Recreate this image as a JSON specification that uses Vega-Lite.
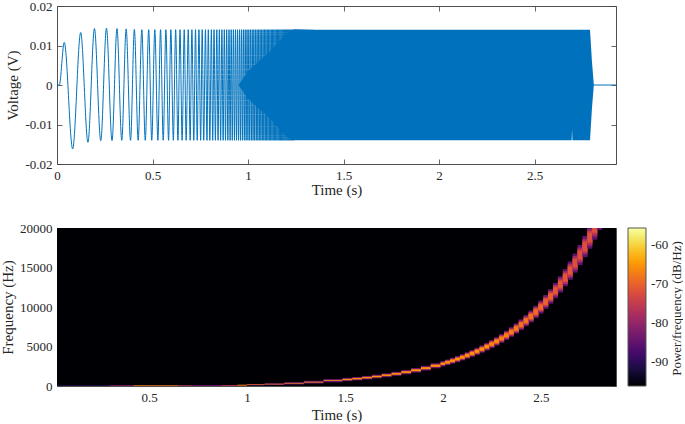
{"$schema":"https://vega.github.io/schema/vega-lite/v6.json","padding":{"left":0,"top":0,"right":0,"bottom":0},"bounds":"flush","spacing":64,
"config":{"view":{"stroke":null},"font":"Liberation Serif","axis":{"grid":false,"labelFont":"Liberation Serif","titleFont":"Liberation Serif","labelFontSize":13,"titleFontSize":15,"titleFontWeight":"normal","labelColor":"#262626","titleColor":"#262626","tickColor":"#404040","domainColor":"#505050","tickSize":-5,"tickWidth":0.8,"domainWidth":1,"labelPadding":10,"zindex":1,"labelFlush":false,"labelOverlap":false}},
"datasets":{
"wave":[{"t":0,"v":0},{"t":0.012,"v":0},{"t":0.038,"v":0.0108},{"t":0.082,"v":-0.0162},{"t":0.124,"v":0.0133},{"t":0.162,"v":-0.0145},{"t":0.196,"v":0.0143},{"t":0.229,"v":-0.0141},{"t":0.259,"v":0.0144},{"t":0.288,"v":-0.0141},{"t":0.314,"v":0.0143},{"t":0.339,"v":-0.014},{"t":0.362,"v":0.0142},{"t":0.385,"v":-0.014},{"t":0.405,"v":0.0141},{"t":0.425,"v":-0.014},{"t":0.444,"v":0.014},{"t":0.462,"v":-0.014},{"t":0.48,"v":0.014},{"t":0.496,"v":-0.014},{"t":0.512,"v":0.014},{"t":0.528,"v":-0.014},{"t":0.542,"v":0.014},{"t":0.556,"v":-0.014},{"t":0.57,"v":0.014},{"t":0.584,"v":-0.014},{"t":0.596,"v":0.014},{"t":0.609,"v":-0.014},{"t":0.621,"v":0.014},{"t":0.633,"v":-0.014},{"t":0.644,"v":0.014},{"t":0.655,"v":-0.014},{"t":0.666,"v":0.014},{"t":0.676,"v":-0.014},{"t":0.687,"v":0.014},{"t":0.697,"v":-0.014},{"t":0.706,"v":0.014},{"t":0.716,"v":-0.014},{"t":0.725,"v":0.014},{"t":0.734,"v":-0.014},{"t":0.743,"v":0.014},{"t":0.752,"v":-0.014},{"t":0.76,"v":0.014},{"t":0.768,"v":-0.014},{"t":0.777,"v":0.014},{"t":0.785,"v":-0.014},{"t":0.792,"v":0.014},{"t":0.8,"v":-0.014},{"t":0.808,"v":0.014},{"t":0.815,"v":-0.014},{"t":0.822,"v":0.014},{"t":0.829,"v":-0.014},{"t":0.8364,"v":0.014},{"t":0.8431,"v":-0.014},{"t":0.8498,"v":0.014},{"t":0.8565,"v":-0.014},{"t":0.8631,"v":0.014},{"t":0.8697,"v":-0.014},{"t":0.8758,"v":0.014},{"t":0.882,"v":-0.014},{"t":0.8881,"v":0.014},{"t":0.8943,"v":-0.014},{"t":0.9004,"v":0.014},{"t":0.9061,"v":-0.014},{"t":0.9118,"v":0.014},{"t":0.9175,"v":-0.014},{"t":0.9232,"v":0.014},{"t":0.9289,"v":-0.014},{"t":0.9342,"v":0.014},{"t":0.9396,"v":-0.014},{"t":0.9449,"v":0.014},{"t":0.9503,"v":-0.014},{"t":0.9556,"v":0.014},{"t":0.9606,"v":-0.014},{"t":0.9656,"v":0.014},{"t":0.9705,"v":-0.014},{"t":0.9755,"v":0.014},{"t":0.9805,"v":-0.014},{"t":0.9852,"v":0.014},{"t":0.9899,"v":-0.014},{"t":0.9947,"v":0.014},{"t":0.9994,"v":-0.014},{"t":1.0041,"v":0.014},{"t":1.0085,"v":-0.014},{"t":1.0129,"v":0.014},{"t":1.0174,"v":-0.014},{"t":1.0218,"v":0.014},{"t":1.0262,"v":-0.014},{"t":1.0304,"v":0.014},{"t":1.0346,"v":-0.014},{"t":1.0389,"v":0.014},{"t":1.0431,"v":-0.014},{"t":1.0473,"v":0.014},{"t":1.0513,"v":-0.014},{"t":1.0553,"v":0.014},{"t":1.0592,"v":-0.014},{"t":1.0632,"v":0.014},{"t":1.0672,"v":-0.014},{"t":1.071,"v":0.014},{"t":1.0748,"v":-0.014},{"t":1.0787,"v":0.014},{"t":1.0825,"v":-0.014},{"t":1.0863,"v":0.014},{"t":1.0899,"v":-0.014},{"t":1.0934,"v":0.014},{"t":1.097,"v":-0.014},{"t":1.1005,"v":0.014},{"t":1.1041,"v":-0.014},{"t":1.1076,"v":0.014},{"t":1.1112,"v":-0.014},{"t":1.1147,"v":0.014},{"t":1.1183,"v":-0.014},{"t":1.1218,"v":0.014},{"t":1.1251,"v":-0.014},{"t":1.1283,"v":0.014},{"t":1.1316,"v":-0.014},{"t":1.1349,"v":0.014},{"t":1.1382,"v":-0.014},{"t":1.1414,"v":0.014},{"t":1.1447,"v":-0.014},{"t":1.148,"v":0.014},{"t":1.1512,"v":-0.014},{"t":1.1545,"v":0.014},{"t":1.1575,"v":-0.014},{"t":1.1605,"v":0.014},{"t":1.1636,"v":-0.014},{"t":1.1666,"v":0.014},{"t":1.1696,"v":-0.014},{"t":1.1726,"v":0.014},{"t":1.1756,"v":-0.014},{"t":1.1787,"v":0.014},{"t":1.1817,"v":-0.014},{"t":1.1847,"v":0.014},{"t":1.1875,"v":-0.014},{"t":1.1903,"v":0.014},{"t":1.1931,"v":-0.014},{"t":1.1959,"v":0.014},{"t":1.1987,"v":-0.014},{"t":1.2015,"v":0.014},{"t":1.2043,"v":-0.014},{"t":1.2071,"v":0.014},{"t":1.2099,"v":-0.014},{"t":1.2127,"v":0.014},{"t":1.2153,"v":-0.014},{"t":1.218,"v":0.014},{"t":1.2206,"v":-0.014},{"t":1.2232,"v":0.014},{"t":1.2259,"v":-0.014},{"t":1.2285,"v":0.014},{"t":1.2311,"v":-0.014},{"t":1.2337,"v":0.014},{"t":1.2364,"v":-0.014},{"t":1.239,"v":0.014},{"t":2.81,"v":0},{"t":2.926,"v":0}],
"env":[{"t":0.95,"lo":0,"hi":0},{"t":1.0,"lo":-0.0035,"hi":0.0035},{"t":1.115,"lo":-0.0085,"hi":0.0085},{"t":1.2,"lo":-0.013,"hi":0.013},{"t":1.235,"lo":-0.014,"hi":0.014},{"t":1.8,"lo":-0.014,"hi":0.014},{"t":2.45,"lo":-0.014,"hi":0.014},{"t":2.694,"lo":-0.014,"hi":0.014},{"t":2.696,"lo":-0.0112,"hi":0.014},{"t":2.698,"lo":-0.014,"hi":0.014},{"t":2.79,"lo":-0.014,"hi":0.014},{"t":2.8,"lo":-0.006,"hi":0.006},{"t":2.81,"lo":0,"hi":0}],
"spec":[{"t0":0.03,"t1":2.883,"f0":0,"f1":20000,"p":-96},
{"t0":0.03,"t1":0.3,"f0":0,"f1":90,"p":-90},{"t0":0.3,"t1":0.42,"f0":0,"f1":110,"p":-82},{"t0":0.42,"t1":0.65,"f0":0,"f1":110,"p":-68},{"t0":0.65,"t1":0.72,"f0":0,"f1":110,"p":-76},{"t0":0.72,"t1":0.87,"f0":10,"f1":130,"p":-84},{"t0":0.87,"t1":0.95,"f0":10,"f1":130,"p":-76},{"t0":0.95,"t1":1.0,"f0":30,"f1":170,"p":-68},
{"t0":1.0,"t1":1.09,"f0":70,"f1":240,"p":-84},{"t0":1.0,"t1":1.09,"f0":130,"f1":200,"p":-66},
{"t0":1.09,"t1":1.19,"f0":130,"f1":340,"p":-84},{"t0":1.09,"t1":1.19,"f0":210,"f1":280,"p":-65},
{"t0":1.19,"t1":1.29,"f0":200,"f1":490,"p":-84},{"t0":1.19,"t1":1.29,"f0":310,"f1":390,"p":-65},
{"t0":1.29,"t1":1.39,"f0":310,"f1":660,"p":-84},{"t0":1.29,"t1":1.39,"f0":440,"f1":530,"p":-65},
{"t0":1.39,"t1":1.4875,"f0":479,"f1":879,"p":-84},{"t0":1.39,"t1":1.4875,"f0":629,"f1":729,"p":-65},
{"t0":1.4875,"t1":1.5375,"f0":615,"f1":1027,"p":-84},{"t0":1.4875,"t1":1.5375,"f0":728,"f1":914,"p":-70},{"t0":1.4875,"t1":1.5375,"f0":766,"f1":876,"p":-65},
{"t0":1.5375,"t1":1.5875,"f0":719,"f1":1145,"p":-84},{"t0":1.5375,"t1":1.5875,"f0":835,"f1":1029,"p":-70},{"t0":1.5375,"t1":1.5875,"f0":874,"f1":990,"p":-65},
{"t0":1.5875,"t1":1.6375,"f0":836,"f1":1280,"p":-84},{"t0":1.5875,"t1":1.6375,"f0":956,"f1":1160,"p":-70},{"t0":1.5875,"t1":1.6375,"f0":996,"f1":1120,"p":-65},
{"t0":1.6375,"t1":1.6875,"f0":968,"f1":1432,"p":-84},{"t0":1.6375,"t1":1.6875,"f0":1092,"f1":1308,"p":-70},{"t0":1.6375,"t1":1.6875,"f0":1134,"f1":1266,"p":-65},
{"t0":1.6875,"t1":1.7375,"f0":1119,"f1":1605,"p":-84},{"t0":1.6875,"t1":1.7375,"f0":1248,"f1":1476,"p":-70},{"t0":1.6875,"t1":1.7375,"f0":1291,"f1":1433,"p":-65},
{"t0":1.7375,"t1":1.7875,"f0":1291,"f1":1801,"p":-84},{"t0":1.7375,"t1":1.7875,"f0":1424,"f1":1668,"p":-70},{"t0":1.7375,"t1":1.7875,"f0":1470,"f1":1622,"p":-65},
{"t0":1.7875,"t1":1.8375,"f0":1485,"f1":2023,"p":-84},{"t0":1.7875,"t1":1.8375,"f0":1624,"f1":1884,"p":-70},{"t0":1.7875,"t1":1.8375,"f0":1671,"f1":1837,"p":-65},
{"t0":1.8375,"t1":1.8875,"f0":1706,"f1":2276,"p":-84},{"t0":1.8375,"t1":1.8875,"f0":1851,"f1":2131,"p":-70},{"t0":1.8375,"t1":1.8875,"f0":1901,"f1":2081,"p":-65},
{"t0":1.8875,"t1":1.9375,"f0":1955,"f1":2563,"p":-84},{"t0":1.8875,"t1":1.9375,"f0":2109,"f1":2409,"p":-70},{"t0":1.8875,"t1":1.9375,"f0":2161,"f1":2357,"p":-65},
{"t0":1.9375,"t1":1.9875,"f0":2240,"f1":2888,"p":-84},{"t0":1.9375,"t1":1.9875,"f0":2401,"f1":2727,"p":-70},{"t0":1.9375,"t1":1.9875,"f0":2457,"f1":2671,"p":-65},
{"t0":1.9875,"t1":2.0125,"f0":2477,"f1":3161,"p":-84},{"t0":1.9875,"t1":2.0125,"f0":2646,"f1":2992,"p":-70},{"t0":1.9875,"t1":2.0125,"f0":2704,"f1":2934,"p":-65},
{"t0":2.0115,"t1":2.0375,"f0":2649,"f1":3357,"p":-85},{"t0":2.0115,"t1":2.0375,"f0":2747,"f1":3259,"p":-76},{"t0":2.0115,"t1":2.0375,"f0":2823,"f1":3183,"p":-70},{"t0":2.0115,"t1":2.0375,"f0":2883,"f1":3123,"p":-65},
{"t0":2.0365,"t1":2.0625,"f0":2831,"f1":3567,"p":-85},{"t0":2.0365,"t1":2.0625,"f0":2933,"f1":3465,"p":-76},{"t0":2.0365,"t1":2.0625,"f0":3011,"f1":3387,"p":-70},{"t0":2.0365,"t1":2.0625,"f0":3073,"f1":3325,"p":-65},
{"t0":2.0615,"t1":2.0875,"f0":3026,"f1":3790,"p":-85},{"t0":2.0615,"t1":2.0875,"f0":3131,"f1":3685,"p":-76},{"t0":2.0615,"t1":2.0875,"f0":3212,"f1":3604,"p":-70},{"t0":2.0615,"t1":2.0875,"f0":3276,"f1":3540,"p":-65},
{"t0":2.0865,"t1":2.1125,"f0":3234,"f1":4028,"p":-85},{"t0":2.0865,"t1":2.1125,"f0":3342,"f1":3920,"p":-76},{"t0":2.0865,"t1":2.1125,"f0":3426,"f1":3836,"p":-70},{"t0":2.0865,"t1":2.1125,"f0":3492,"f1":3770,"p":-65},
{"t0":2.1115,"t1":2.1375,"f0":3455,"f1":4281,"p":-85},{"t0":2.1115,"t1":2.1375,"f0":3567,"f1":4169,"p":-76},{"t0":2.1115,"t1":2.1375,"f0":3653,"f1":4083,"p":-70},{"t0":2.1115,"t1":2.1375,"f0":3722,"f1":4014,"p":-65},
{"t0":2.1365,"t1":2.1625,"f0":3690,"f1":4550,"p":-85},{"t0":2.1365,"t1":2.1625,"f0":3806,"f1":4434,"p":-76},{"t0":2.1365,"t1":2.1625,"f0":3895,"f1":4345,"p":-70},{"t0":2.1365,"t1":2.1625,"f0":3966,"f1":4274,"p":-65},
{"t0":2.1615,"t1":2.1875,"f0":3941,"f1":4839,"p":-85},{"t0":2.1615,"t1":2.1875,"f0":4062,"f1":4718,"p":-76},{"t0":2.1615,"t1":2.1875,"f0":4154,"f1":4626,"p":-70},{"t0":2.1615,"t1":2.1875,"f0":4228,"f1":4552,"p":-65},
{"t0":2.1865,"t1":2.2125,"f0":4208,"f1":5144,"p":-85},{"t0":2.1865,"t1":2.2125,"f0":4333,"f1":5019,"p":-76},{"t0":2.1865,"t1":2.2125,"f0":4429,"f1":4923,"p":-70},{"t0":2.1865,"t1":2.2125,"f0":4506,"f1":4846,"p":-65},
{"t0":2.2115,"t1":2.2375,"f0":4492,"f1":5470,"p":-85},{"t0":2.2115,"t1":2.2375,"f0":4622,"f1":5340,"p":-76},{"t0":2.2115,"t1":2.2375,"f0":4722,"f1":5240,"p":-70},{"t0":2.2115,"t1":2.2375,"f0":4802,"f1":5160,"p":-65},
{"t0":2.2365,"t1":2.2625,"f0":4796,"f1":5818,"p":-85},{"t0":2.2365,"t1":2.2625,"f0":4931,"f1":5683,"p":-76},{"t0":2.2365,"t1":2.2625,"f0":5035,"f1":5579,"p":-70},{"t0":2.2365,"t1":2.2625,"f0":5118,"f1":5496,"p":-66},
{"t0":2.2615,"t1":2.2875,"f0":5119,"f1":6187,"p":-85},{"t0":2.2615,"t1":2.2875,"f0":5259,"f1":6047,"p":-76},{"t0":2.2615,"t1":2.2875,"f0":5367,"f1":5939,"p":-70},{"t0":2.2615,"t1":2.2875,"f0":5453,"f1":5853,"p":-66},
{"t0":2.2865,"t1":2.3125,"f0":5462,"f1":6582,"p":-85},{"t0":2.2865,"t1":2.3125,"f0":5609,"f1":6435,"p":-76},{"t0":2.2865,"t1":2.3125,"f0":5721,"f1":6323,"p":-71},{"t0":2.2865,"t1":2.3125,"f0":5811,"f1":6233,"p":-67},
{"t0":2.3115,"t1":2.3375,"f0":5830,"f1":7002,"p":-85},{"t0":2.3115,"t1":2.3375,"f0":5982,"f1":6850,"p":-76},{"t0":2.3115,"t1":2.3375,"f0":6099,"f1":6733,"p":-71},{"t0":2.3115,"t1":2.3375,"f0":6194,"f1":6638,"p":-67},
{"t0":2.3365,"t1":2.3625,"f0":6220,"f1":7450,"p":-85},{"t0":2.3365,"t1":2.3625,"f0":6380,"f1":7290,"p":-76},{"t0":2.3365,"t1":2.3625,"f0":6502,"f1":7168,"p":-71},{"t0":2.3365,"t1":2.3625,"f0":6600,"f1":7070,"p":-67},
{"t0":2.3615,"t1":2.3875,"f0":6636,"f1":7926,"p":-85},{"t0":2.3615,"t1":2.3875,"f0":6802,"f1":7760,"p":-76},{"t0":2.3615,"t1":2.3875,"f0":6930,"f1":7632,"p":-71},{"t0":2.3615,"t1":2.3875,"f0":7033,"f1":7529,"p":-67},
{"t0":2.3865,"t1":2.4125,"f0":7080,"f1":8434,"p":-85},{"t0":2.3865,"t1":2.4125,"f0":7254,"f1":8260,"p":-77},{"t0":2.3865,"t1":2.4125,"f0":7387,"f1":8127,"p":-72},{"t0":2.3865,"t1":2.4125,"f0":7494,"f1":8020,"p":-68},
{"t0":2.4115,"t1":2.4375,"f0":7551,"f1":8975,"p":-85},{"t0":2.4115,"t1":2.4375,"f0":7733,"f1":8793,"p":-77},{"t0":2.4115,"t1":2.4375,"f0":7872,"f1":8654,"p":-72},{"t0":2.4115,"t1":2.4375,"f0":7985,"f1":8541,"p":-68},
{"t0":2.4365,"t1":2.4625,"f0":8054,"f1":9552,"p":-85},{"t0":2.4365,"t1":2.4625,"f0":8245,"f1":9361,"p":-77},{"t0":2.4365,"t1":2.4625,"f0":8391,"f1":9215,"p":-72},{"t0":2.4365,"t1":2.4625,"f0":8509,"f1":9097,"p":-68},
{"t0":2.4615,"t1":2.4875,"f0":8590,"f1":10166,"p":-85},{"t0":2.4615,"t1":2.4875,"f0":8790,"f1":9966,"p":-77},{"t0":2.4615,"t1":2.4875,"f0":8943,"f1":9813,"p":-72},{"t0":2.4615,"t1":2.4875,"f0":9067,"f1":9689,"p":-69},
{"t0":2.4865,"t1":2.5125,"f0":9162,"f1":10820,"p":-85},{"t0":2.4865,"t1":2.5125,"f0":9371,"f1":10611,"p":-78},{"t0":2.4865,"t1":2.5125,"f0":9531,"f1":10451,"p":-73},{"t0":2.4865,"t1":2.5125,"f0":9661,"f1":10321,"p":-69},
{"t0":2.5115,"t1":2.5375,"f0":9769,"f1":11517,"p":-85},{"t0":2.5115,"t1":2.5375,"f0":9990,"f1":11296,"p":-78},{"t0":2.5115,"t1":2.5375,"f0":10157,"f1":11129,"p":-73},{"t0":2.5115,"t1":2.5375,"f0":10294,"f1":10992,"p":-70},
{"t0":2.5365,"t1":2.5625,"f0":10417,"f1":12259,"p":-85},{"t0":2.5365,"t1":2.5625,"f0":10648,"f1":12028,"p":-78},{"t0":2.5365,"t1":2.5625,"f0":10824,"f1":11852,"p":-73},{"t0":2.5365,"t1":2.5625,"f0":10968,"f1":11708,"p":-70},
{"t0":2.5615,"t1":2.5875,"f0":11108,"f1":13050,"p":-85},{"t0":2.5615,"t1":2.5875,"f0":11351,"f1":12807,"p":-78},{"t0":2.5615,"t1":2.5875,"f0":11536,"f1":12622,"p":-74},{"t0":2.5615,"t1":2.5875,"f0":11687,"f1":12471,"p":-71},
{"t0":2.5865,"t1":2.6125,"f0":11843,"f1":13893,"p":-85},{"t0":2.5865,"t1":2.6125,"f0":12099,"f1":13637,"p":-78},{"t0":2.5865,"t1":2.6125,"f0":12293,"f1":13443,"p":-74},{"t0":2.5865,"t1":2.6125,"f0":12452,"f1":13284,"p":-71},
{"t0":2.6115,"t1":2.6375,"f0":12626,"f1":14790,"p":-85},{"t0":2.6115,"t1":2.6375,"f0":12895,"f1":14521,"p":-78},{"t0":2.6115,"t1":2.6375,"f0":13100,"f1":14316,"p":-74},{"t0":2.6115,"t1":2.6375,"f0":13267,"f1":14149,"p":-71},
{"t0":2.6365,"t1":2.6625,"f0":13461,"f1":15747,"p":-85},{"t0":2.6365,"t1":2.6625,"f0":13745,"f1":15463,"p":-78},{"t0":2.6365,"t1":2.6625,"f0":13960,"f1":15248,"p":-74},{"t0":2.6365,"t1":2.6625,"f0":14136,"f1":15072,"p":-71},
{"t0":2.6615,"t1":2.6875,"f0":14350,"f1":16766,"p":-85},{"t0":2.6615,"t1":2.6875,"f0":14649,"f1":16467,"p":-79},{"t0":2.6615,"t1":2.6875,"f0":14876,"f1":16240,"p":-75},{"t0":2.6615,"t1":2.6875,"f0":15061,"f1":16055,"p":-72},
{"t0":2.6865,"t1":2.7125,"f0":15297,"f1":17851,"p":-85},{"t0":2.6865,"t1":2.7125,"f0":15612,"f1":17536,"p":-79},{"t0":2.6865,"t1":2.7125,"f0":15851,"f1":17297,"p":-75},{"t0":2.6865,"t1":2.7125,"f0":16047,"f1":17101,"p":-72},
{"t0":2.7115,"t1":2.7375,"f0":16305,"f1":19007,"p":-85},{"t0":2.7115,"t1":2.7375,"f0":16638,"f1":18674,"p":-79},{"t0":2.7115,"t1":2.7375,"f0":16890,"f1":18422,"p":-75},{"t0":2.7115,"t1":2.7375,"f0":17096,"f1":18216,"p":-72},
{"t0":2.7365,"t1":2.7625,"f0":17381,"f1":20000,"p":-85},{"t0":2.7365,"t1":2.7625,"f0":17732,"f1":19888,"p":-79},{"t0":2.7365,"t1":2.7625,"f0":17998,"f1":19622,"p":-75},{"t0":2.7365,"t1":2.7625,"f0":18216,"f1":19404,"p":-72},
{"t0":2.7615,"t1":2.7875,"f0":18525,"f1":20000,"p":-85},{"t0":2.7615,"t1":2.7875,"f0":18896,"f1":20000,"p":-79},{"t0":2.7615,"t1":2.7875,"f0":19177,"f1":20000,"p":-75},{"t0":2.7615,"t1":2.7875,"f0":19407,"f1":20000,"p":-72},
{"t0":2.7865,"t1":2.8125,"f0":19745,"f1":20000,"p":-85}],
"ticks":[{"t":1,"v":0}]
},
"vconcat":[
{"width":559,"height":158,"layer":[
{"data":{"name":"env"},"mark":{"type":"area","color":"#0072BD"},"encoding":{"x":{"field":"t","type":"quantitative","scale":{"domain":[0,2.926],"nice":false,"zero":false},"axis":{"title":"Time (s)","values":[0,0.5,1,1.5,2,2.5],"labelExpr":"format(datum.value,'.1~f')","titlePadding":0}},"y":{"field":"lo","type":"quantitative","scale":{"domain":[-0.02,0.02],"nice":false},"axis":{"title":"Voltage (V)","values":[-0.02,-0.01,0,0.01,0.02],"labelExpr":"replace(format(datum.value,'.2~f'),'−','-')","titlePadding":4}},"y2":{"field":"hi"}}},
{"data":{"name":"wave"},"mark":{"type":"line","color":"#0072BD","strokeWidth":1,"interpolate":"monotone"},"encoding":{"x":{"field":"t","type":"quantitative","axis":null},"y":{"field":"v","type":"quantitative","axis":null}}},
{"data":{"name":"ticks"},"mark":{"type":"point","opacity":0},"encoding":{"x":{"field":"t","type":"quantitative","axis":{"orient":"top","title":null,"labels":false,"values":[0,0.5,1,1.5,2,2.5]}},"y":{"field":"v","type":"quantitative","axis":{"orient":"right","title":null,"labels":false,"values":[-0.02,-0.01,0,0.01,0.02]}}}}
],"resolve":{"axis":{"x":"independent","y":"independent"}}},
{"width":559,"height":158,"layer":[
{"data":{"name":"spec"},"mark":{"type":"rect","clip":true},"encoding":{"x":{"field":"t0","type":"quantitative","scale":{"domain":[0.03,2.883],"nice":false,"zero":false},"axis":{"title":"Time (s)","values":[0.5,1,1.5,2,2.5],"labelExpr":"format(datum.value,'.1~f')","titlePadding":3}},"x2":{"field":"t1"},"y":{"field":"f0","type":"quantitative","scale":{"domain":[0,20000],"nice":false},"axis":{"title":"Frequency (Hz)","values":[0,5000,10000,15000,20000],"labelExpr":"format(datum.value,'d')","titlePadding":4}},"y2":{"field":"f1"},"color":{"field":"p","type":"quantitative","scale":{"scheme":"inferno","domain":[-96,-55.7]},"legend":{"title":null,"values":[-90,-80,-70,-60],"orient":"none","legendX":571,"legendY":222,"gradientLength":158,"gradientThickness":18,"gradientStrokeColor":"#555555","gradientStrokeWidth":1,"labelOffset":5,"labelFont":"Liberation Serif","labelFontSize":13,"labelColor":"#262626","labelExpr":"replace(datum.label,'−','-')"}}}},
{"data":{"name":"ticks"},"mark":{"type":"point","opacity":0},"encoding":{"x":{"field":"t","type":"quantitative","axis":{"orient":"top","title":null,"labels":false,"values":[0.5,1,1.5,2,2.5]}},"y":{"field":"v","type":"quantitative","axis":{"orient":"right","labels":false,"values":[0,5000,10000,15000,20000],"title":"Power/frequency (dB/Hz)","titleFontSize":13,"titleX":67,"titleY":80,"titleAngle":270}}}}
],"resolve":{"axis":{"x":"independent","y":"independent"}}}
]}
